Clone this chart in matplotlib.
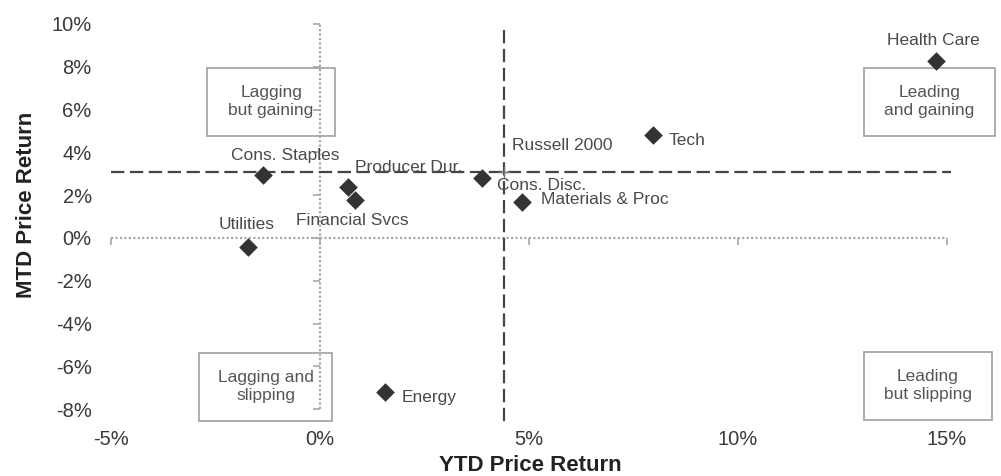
import matplotlib
matplotlib.use("Agg")
import matplotlib.pyplot as plt
from matplotlib.patches import Rectangle
from matplotlib.ticker import FuncFormatter

plt.rcParams['font.family'] = ['Liberation Sans', 'DejaVu Sans']

###############################################################################
# Data (percent)
sectors = ["Health Care", "Tech", "Cons. Staples", "Producer Dur.",
           "Financial Svcs", "Cons. Disc.", "Materials & Proc",
           "Utilities", "Energy"]
ytd = [14.74, 7.97, -1.36, 0.67, 0.84, 3.88, 4.83, -1.72, 1.56]
mtd = [8.27, 4.81, 2.94, 2.38, 1.78, 2.80, 1.68, -0.42, -7.20]

benchmark = "Russell 2000"
bench_ytd = 4.40
bench_mtd = 3.08

x_ticks = [-5, 0, 5, 10, 15]
y_ticks = [-8, -6, -4, -2, 0, 2, 4, 6, 8, 10]

quadrants = ["Lagging\nbut gaining", "Leading\nand gaining",
             "Lagging and\nslipping", "Leading\nbut slipping"]

###############################################################################
# Label placement (offset in points, horizontal alignment)
label_pos = {
    "Health Care": ((-2, 15), "center"),
    "Tech": ((11, -4), "left"),
    "Cons. Staples": ((-23, 14), "left"),
    "Producer Dur.": ((5, 14), "left"),
    "Financial Svcs": ((-2, -15), "center"),
    "Cons. Disc.": ((11, -5), "left"),
    "Materials & Proc": ((14, 2), "left"),
    "Utilities": ((-1, 16), "center"),
    "Energy": ((12, -4), "left"),
}

# quadrant boxes: (x0, x1, y0, y1) in data coords
boxes = [(-2.70, 0.36, 4.77, 7.94), (13.01, 16.15, 4.77, 7.94),
         (-2.89, 0.29, -8.55, -5.37), (13.01, 16.08, -8.50, -5.33)]

###############################################################################
# Plot
fig = plt.figure(figsize=(10.01, 4.76), dpi=100)
ax = fig.add_axes([100 / 1001, 50 / 476, 901 / 1001, 426 / 476])
ax.set_xlim(-5.263, 16.29)
ax.set_ylim(-8.785, 11.12)

for s in ax.spines.values():
    s.set_visible(False)

axis_col = "#a8a8a8"
# axes crossing at zero
ax.plot([x_ticks[0], x_ticks[-1]], [0, 0], color=axis_col, lw=1.6,
        ls=(0, (1, 1)), zorder=1)
ax.plot([0, 0], [y_ticks[0], y_ticks[-1]], color=axis_col, lw=1.6,
        ls=(0, (1, 1)), zorder=1)
ax.plot(x_ticks, [0] * len(x_ticks), ls="", marker=3, ms=5,
        mew=1.2, color=axis_col)
ax.plot([0] * len(y_ticks), y_ticks, ls="", marker=0, ms=5,
        mew=1.2, color=axis_col)

# benchmark lines
dash_col = "#454545"
ax.plot([x_ticks[0], 15.1], [bench_mtd, bench_mtd], color=dash_col,
        lw=1.6, ls=(0, (6, 2.5)), zorder=2)
ax.plot([bench_ytd, bench_ytd], [9.7, -8.7], color=dash_col,
        lw=1.6, ls=(0, (6, 2.5)), zorder=2)
ax.plot([bench_ytd], [bench_mtd], marker="+", ms=8, mew=1,
        color="#777777", zorder=3)
ax.annotate(benchmark, (bench_ytd, bench_mtd), xytext=(6, 19),
            textcoords="offset points", ha="left", va="center",
            fontsize=12.5, color="#4a4a4a")

# sector points
ax.scatter(ytd, mtd, marker="D", s=90, color="#333333", zorder=4,
           linewidths=0)
for name, x, y in zip(sectors, ytd, mtd):
    off, ha = label_pos[name]
    ax.annotate(name, (x, y), xytext=off, textcoords="offset points",
                ha=ha, va="center", fontsize=12.5, color="#4a4a4a")

# quadrant boxes
for (x0, x1, y0, y1), txt in zip(boxes, quadrants):
    ax.add_patch(Rectangle((x0, y0), x1 - x0, y1 - y0, fill=False,
                           ec="#a0a0a0", lw=1.2, zorder=3))
    ax.text((x0 + x1) / 2, (y0 + y1) / 2, txt, ha="center", va="center",
            fontsize=12.5, color="#555555", linespacing=1.25)

# ticks and labels
ax.set_xticks(x_ticks)
ax.set_yticks(y_ticks)
pct = FuncFormatter(lambda v, p: f"{v:.0f}%")
ax.xaxis.set_major_formatter(pct)
ax.yaxis.set_major_formatter(pct)
ax.tick_params(length=0, labelsize=14.5, labelcolor="#3a3a3a")
ax.tick_params(axis="y", pad=6)
ax.tick_params(axis="x", pad=3)

ax.set_xlabel("YTD Price Return", fontsize=16, fontweight="bold",
              color="#222222")
ax.xaxis.set_label_coords((530 - 100) / 901, -(455 - 426) / 426)
ax.set_ylabel("MTD Price Return", fontsize=16, fontweight="bold",
              color="#222222")
ax.yaxis.set_label_coords((37 - 100) / 901, (426 - 205) / 426)

fig.savefig("out.png", dpi=100)
